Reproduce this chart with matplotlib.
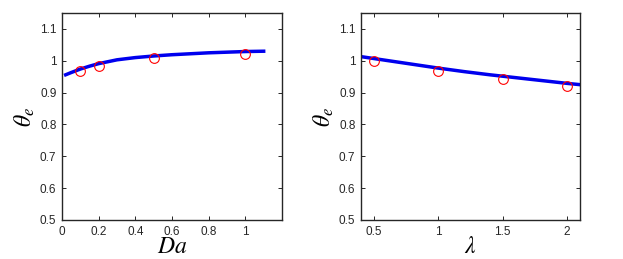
import matplotlib
matplotlib.use("Agg")
import matplotlib.pyplot as plt

plt.rcParams['font.family'] = ['Liberation Sans', 'DejaVu Sans']
plt.rcParams['mathtext.fontset'] = 'stix'

# Left panel: theta_e vs Da
da_curve = [0.02, 0.05, 0.1, 0.15, 0.2, 0.3, 0.4, 0.5, 0.6, 0.7, 0.8, 0.9, 1.0, 1.1]
theta_da_curve = [0.956, 0.963, 0.974, 0.983, 0.991, 1.003, 1.010, 1.015, 1.019, 1.022, 1.025, 1.027, 1.029, 1.030]
da_pts = [0.1, 0.2, 0.5, 1.0]
theta_da_pts = [0.968, 0.985, 1.008, 1.022]

# Right panel: theta_e vs lambda
lam_curve = [0.4, 0.6, 0.8, 1.0, 1.2, 1.4, 1.6, 1.8, 2.0, 2.1]
theta_lam_curve = [1.013, 1.001, 0.989, 0.977, 0.966, 0.956, 0.947, 0.938, 0.929, 0.925]
lam_pts = [0.5, 1.0, 1.5, 2.0]
theta_lam_pts = [0.998, 0.968, 0.944, 0.921]

yticks = [0.5, 0.6, 0.7, 0.8, 0.9, 1.0, 1.1]
ytick_labels = ['0.5', '0.6', '0.7', '0.8', '0.9', '1', '1.1']
xticks_left = [0, 0.2, 0.4, 0.6, 0.8, 1.0]
xtick_labels_left = ['0', '0.2', '0.4', '0.6', '0.8', '1']
xticks_right = [0.5, 1.0, 1.5, 2.0]
xtick_labels_right = ['0.5', '1', '1.5', '2']

W, H = 623, 259
fig = plt.figure(figsize=(W / 100, H / 100), dpi=100)
ax1 = fig.add_axes([62 / W, 39 / H, 220 / W, 207 / H])
ax2 = fig.add_axes([361 / W, 39 / H, 219 / W, 207 / H])

def style(ax):
    for s in ax.spines.values():
        s.set_color('#262626')
        s.set_linewidth(1.0)
    ax.tick_params(direction='in', top=True, right=True, length=3, width=0.7,
                   color='#262626', labelsize=8.5, labelcolor='#262626', pad=4)
    ax.set_ylim(0.5, 1.15)
    ax.set_yticks(yticks)
    ax.set_yticklabels(ytick_labels)
    ax.set_ylabel(r'$\theta_e$', fontsize=17, labelpad=2)

ax1.plot(da_curve, theta_da_curve, color='#0000ee', lw=2.5)
ax1.plot(da_pts, theta_da_pts, 'o', mfc='none', mec='red', ms=7, mew=0.8)
ax1.set_xlim(0, 1.2)
ax1.set_xticks(xticks_left)
ax1.set_xticklabels(xtick_labels_left)
ax1.set_xlabel(r'$Da$', fontsize=17, labelpad=-1)
style(ax1)

ax2.plot(lam_curve, theta_lam_curve, color='#0000ee', lw=2.5)
ax2.plot(lam_pts, theta_lam_pts, 'o', mfc='none', mec='red', ms=7, mew=0.8)
ax2.set_xlim(0.4, 2.1)
ax2.set_xticks(xticks_right)
ax2.set_xticklabels(xtick_labels_right)
ax2.set_xlabel(r'$\lambda$', fontsize=17, labelpad=-1)
style(ax2)

fig.savefig('out.png', dpi=100)
